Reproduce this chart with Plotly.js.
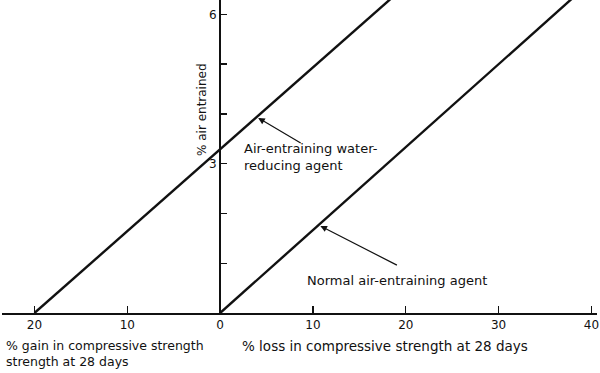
<!DOCTYPE html>
<html><head><meta charset="utf-8">
<script src="https://cdn.plot.ly/plotly-3.0.1.min.js"></script>
<style>body{margin:0;background:#fff}#c{width:600px;height:373px}</style>
</head><body><div id="c"></div>
<script>
// Air-entraining water-reducing agent line
const waterReducingX = [-20, 18.6];
const waterReducingY = [0, 6.35];
// Normal air-entraining agent line
const normalX = [0, 38.1];
const normalY = [0, 6.35];
const xTickVals = [-20, -10, 0, 10, 20, 30, 40];
const xTickText = ['20', '10', '0', '10', '20', '30', '40'];
const yTickVals = [1, 2, 3, 4, 5, 6];
const yTickText = ['', '', '3', '', '', '6'];

const FONT = 'DejaVu Sans, sans-serif';
const lineStyle = {color: '#111', width: 2.4};
const traces = [
  {x: waterReducingX, y: waterReducingY, mode: 'lines', line: lineStyle, hoverinfo: 'skip'},
  {x: normalX, y: normalY, mode: 'lines', line: lineStyle, hoverinfo: 'skip'}
];
const layout = {
  width: 600, height: 373,
  margin: {l: 2, r: 3, t: 0, b: 60},
  paper_bgcolor: '#fff', plot_bgcolor: '#fff',
  showlegend: false,
  font: {family: FONT, size: 12, color: '#111'},
  xaxis: {
    range: [-23.5, 40.6], showgrid: false, zeroline: false,
    showline: true, linecolor: '#111', linewidth: 1.8,
    ticks: 'inside', ticklen: 7, tickwidth: 1.4, tickcolor: '#111',
    tickvals: xTickVals, ticktext: xTickText,
    tickfont: {family: FONT, size: 12, color: '#111'}
  },
  yaxis: {
    range: [0, 6.29], showgrid: false, zeroline: false,
    anchor: 'free', position: (220 - 2) / 595,
    showline: true, linecolor: '#111', linewidth: 2,
    ticks: 'inside', ticklen: 6, tickwidth: 1.4, tickcolor: '#111',
    tickvals: yTickVals, ticktext: yTickText,
    tickfont: {family: FONT, size: 12, color: '#111'}
  },
  annotations: [
    {xref: 'x', yref: 'y', x: -1.95, y: 4.08, text: '% air entrained', textangle: -90,
     showarrow: false, font: {family: FONT, size: 12, color: '#111'}},
    {xref: 'x', yref: 'y', x: 2.4, y: 3.5, xanchor: 'left', yanchor: 'top', align: 'left',
     text: 'Air-entraining water-<br>reducing agent', showarrow: false,
     font: {family: FONT, size: 13, color: '#111'}},
    {xref: 'x', yref: 'y', x: 4.1, y: 3.92, text: '', showarrow: true, ax: 44, ay: 26,
     arrowhead: 2, arrowsize: 1.1, arrowwidth: 1.2, arrowcolor: '#111'},
    {xref: 'x', yref: 'y', x: 9.1, y: 0.66, xanchor: 'left', yanchor: 'middle', align: 'left',
     text: 'Normal air-entraining agent', showarrow: false,
     font: {family: FONT, size: 13, color: '#111'}},
    {xref: 'x', yref: 'y', x: 10.8, y: 1.75, text: '', showarrow: true, ax: 78, ay: 40,
     arrowhead: 2, arrowsize: 1.1, arrowwidth: 1.2, arrowcolor: '#111'},
    {xref: 'paper', yref: 'paper', x: 0.004, y: -0.075, xanchor: 'left', yanchor: 'top', align: 'left',
     text: '% gain in compressive strength<br>strength at 28 days', showarrow: false,
     font: {family: FONT, size: 12.5, color: '#111'}},
    {xref: 'paper', yref: 'paper', x: (240 - 2) / 595, y: -0.075, xanchor: 'left', yanchor: 'top', align: 'left',
     text: '% loss in compressive strength at 28 days', showarrow: false,
     font: {family: FONT, size: 13.5, color: '#111'}}
  ]
};
Plotly.newPlot('c', traces, layout, {displayModeBar: false, staticPlot: true});
</script></body></html>
